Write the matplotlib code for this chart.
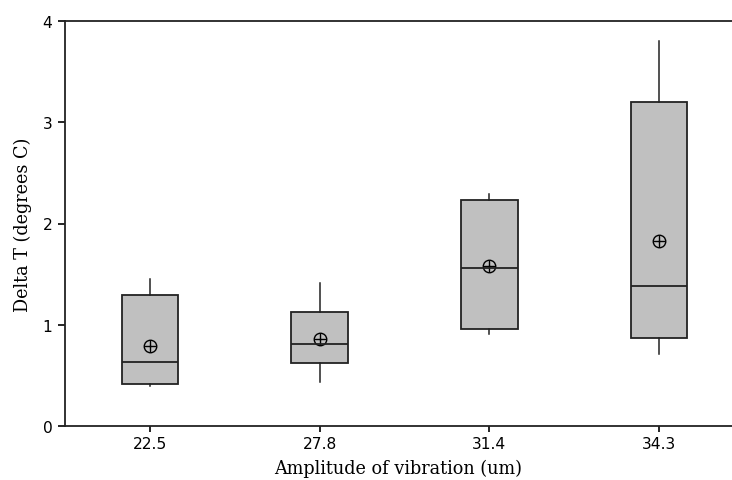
import matplotlib
matplotlib.use('Agg')
import matplotlib.pyplot as plt

# ==========================================
# data
# ==========================================
categories = ['22.5', '27.8', '31.4', '34.3']
whisker_low = [0.40, 0.43, 0.91, 0.71]
q1 = [0.415, 0.62, 0.96, 0.866]
medians = [0.635, 0.813, 1.563, 1.386]
q3 = [1.29, 1.13, 2.232, 3.20]
whisker_high = [1.45, 1.41, 2.294, 3.80]
means = [0.787, 0.86, 1.58, 1.827]
y_ticks = [0, 1, 2, 3, 4]

stats = []
for i, cat in enumerate(categories):
    stats.append(dict(label=cat, whislo=whisker_low[i], q1=q1[i], med=medians[i],
                      q3=q3[i], whishi=whisker_high[i], mean=means[i], fliers=[]))

fig = plt.figure(figsize=(7.32, 4.81), dpi=100)
ax = fig.add_axes([65 / 732, 54 / 481, 1 - 65 / 732, 405 / 481])

pos = list(range(1, len(categories) + 1))
ax.bxp(stats, positions=pos, widths=0.335, patch_artist=True, showcaps=False,
       showmeans=False,
       boxprops=dict(facecolor='#c0c0c0', edgecolor='#222222', linewidth=1.3),
       medianprops=dict(color='#222222', linewidth=1.3),
       whiskerprops=dict(color='#222222', linewidth=1.1))

# mean symbol: circle with a cross
ax.plot(pos, means, linestyle='none', marker='o', markersize=9,
        markerfacecolor='none', markeredgecolor='black', markeredgewidth=1.0)
ax.plot(pos, means, linestyle='none', marker='+', markersize=9,
        markeredgecolor='black', markeredgewidth=1.0)

ax.set_xlim(0.499, 4.43)
ax.set_ylim(0, 4)
ax.set_yticks(y_ticks)
ax.set_xticks(pos)
ax.set_xticklabels(categories)

for sp in ['left', 'bottom', 'top']:
    ax.spines[sp].set_linewidth(1.3)
    ax.spines[sp].set_color('#222222')
ax.spines['right'].set_visible(False)

ax.tick_params(axis='y', length=5, width=1.2, labelsize=11.2, pad=4)
ax.tick_params(axis='x', length=4, width=1.2, labelsize=11.2, pad=3)
for lab in ax.get_xticklabels() + ax.get_yticklabels():
    lab.set_family('DejaVu Sans')

ax.set_xlabel('Amplitude of vibration (um)', family='DejaVu Serif', fontsize=12.7, labelpad=6)
ax.set_ylabel('Delta T (degrees C)', family='DejaVu Serif', fontsize=12.7, labelpad=8)

plt.savefig('out.png', dpi=100)
